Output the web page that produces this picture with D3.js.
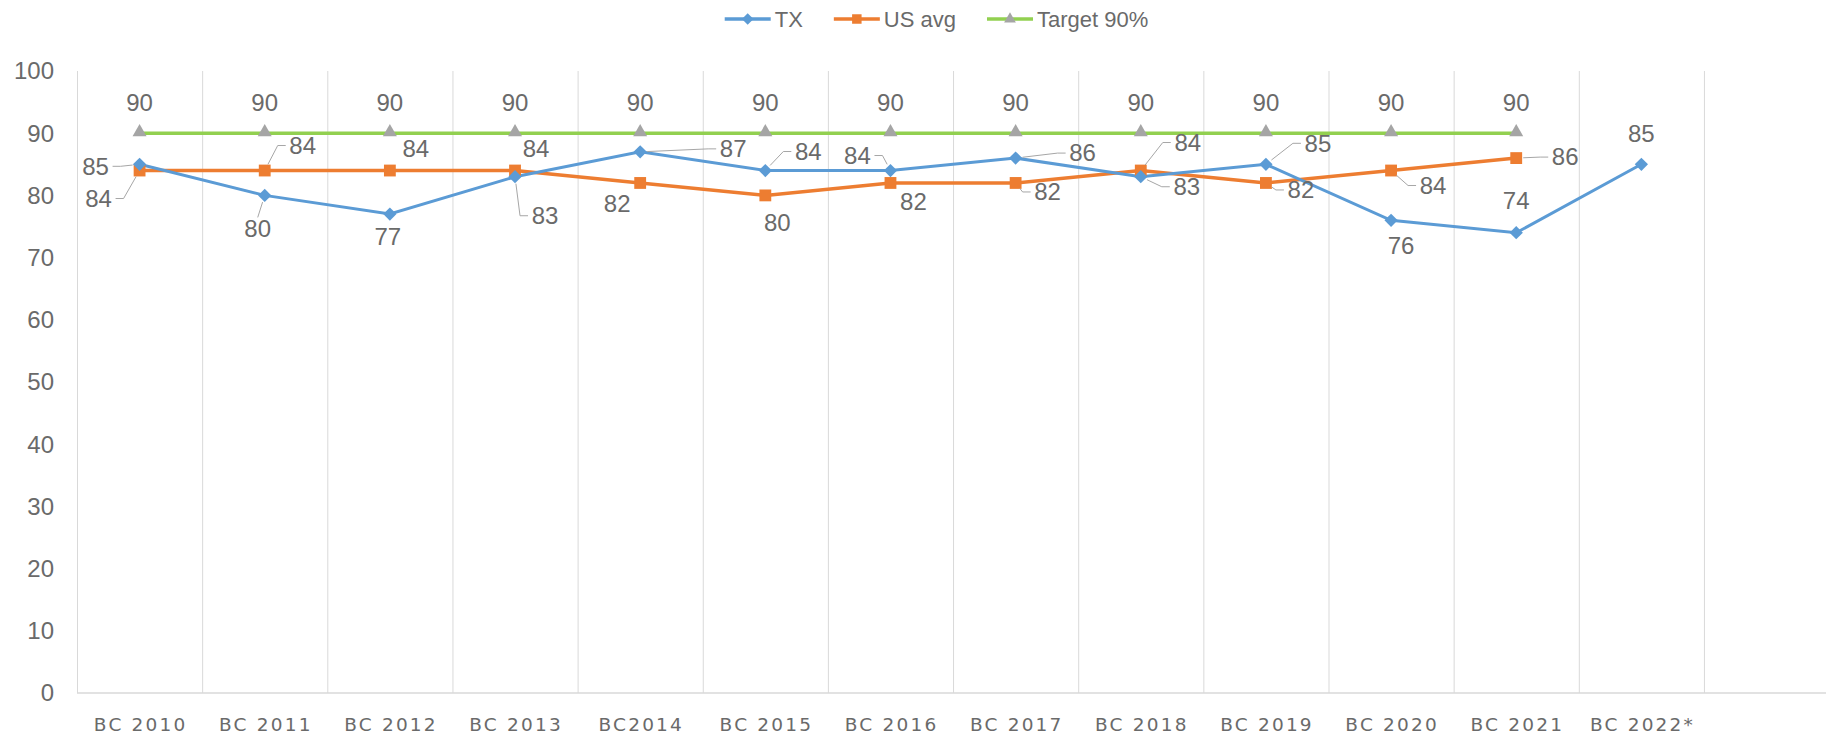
<!DOCTYPE html>
<html><head><meta charset="utf-8">
<script src="https://cdn.jsdelivr.net/npm/d3@7"></script>
<style>body{margin:0;background:#fff}svg{display:block}</style>
</head><body>
<script>
// ---------- data ----------
const categories = ["BC 2010","BC 2011","BC 2012","BC 2013","BC2014","BC 2015","BC 2016","BC 2017","BC 2018","BC 2019","BC 2020","BC 2021","BC 2022*"];
const txValues = [85,80,77,83,87,84,84,86,83,85,76,74,85];
const usValues = [84,84,84,84,82,80,82,82,84,82,84,86];
const targetValues = [90,90,90,90,90,90,90,90,90,90,90,90];
const yTicks = [0,10,20,30,40,50,60,70,80,90,100];
const seriesNames = ["TX","US avg","Target 90%"];

// label placement (dx, dy from point in px, leader line flag)
const txLabelPlace = [[-44,2,1],[-7,33,1],[-2,23,0],[30,39,1],[93,-3,1],[43,-19,1],[-33,-15,1],[67,-5,1],[46,10,1],[52,-21,1],[10,25,0],[0,-32,0],[0,-31,0]];
const usLabelPlace = [[-41,28,1],[38,-25,1],[26,-22,0],[21,-22,0],[-23,21,0],[12,27,0],[23,19,0],[32,9,1],[47,-28,1],[35,7,1],[42,15,1],[49,-1,1]];
const targetLabelPlace = targetValues.map(() => [0,-31,0]);

// ---------- layout ----------
const W = 1826, H = 737;
const plotLeft = 77, plotTop = 71, plotBottom = 693;
const bandW = 125.15;
const colors = {tx:"#5B9BD5", us:"#ED7D31", target:"#92D050", tri:"#A5A5A5", text:"#6A6A6A", grid:"#D9D9D9"};
const font = "'Liberation Sans', Arial, sans-serif";

const svg = d3.select("body").append("svg").attr("width", W).attr("height", H);

const domain = categories.concat([" "]);
const x = d3.scaleBand().domain(domain).range([plotLeft, plotLeft + bandW * domain.length]).padding(0);
const y = d3.scaleLinear().domain([0, 100]).range([plotBottom, plotTop]);
const cx = i => x(categories[i]) + x.bandwidth() / 2;

// vertical gridlines at band boundaries
svg.append("g").selectAll("line").data(domain).join("line")
  .attr("x1", d => x(d) + 0.5).attr("x2", d => x(d) + 0.5)
  .attr("y1", plotTop).attr("y2", plotBottom)
  .attr("stroke", colors.grid).attr("stroke-width", 1);
// baseline
svg.append("line").attr("x1", plotLeft).attr("x2", W).attr("y1", y(0)).attr("y2", y(0))
  .attr("stroke", colors.grid).attr("stroke-width", 1.5);

// y tick labels
svg.append("g").selectAll("text").data(yTicks).join("text")
  .attr("x", 54).attr("y", d => y(d)).attr("dy", "0.35em")
  .attr("text-anchor", "end").attr("font-family", font).attr("font-size", 24)
  .attr("fill", colors.text).text(d => d);

// x labels
svg.append("g").selectAll("text").data(categories).join("text")
  .attr("x", d => x(d) + x.bandwidth() / 2 + 1.1).attr("y", 731)
  .attr("text-anchor", "middle").attr("font-family", "'DejaVu Sans', sans-serif")
  .attr("font-size", 18.5).attr("letter-spacing", "2.2px")
  .attr("fill", colors.text).text(d => d);

// lines
const line = d3.line().x((d, i) => cx(i)).y(d => y(d));
svg.append("path").datum(targetValues).attr("d", line).attr("fill", "none")
  .attr("stroke", colors.target).attr("stroke-width", 3.5);
svg.append("path").datum(usValues).attr("d", line).attr("fill", "none")
  .attr("stroke", colors.us).attr("stroke-width", 3.5);
svg.append("path").datum(txValues).attr("d", line).attr("fill", "none")
  .attr("stroke", colors.tx).attr("stroke-width", 3);

// markers
const square = d3.symbol().type(d3.symbolSquare).size(140);
const triangle = d3.symbol().type(d3.symbolTriangle).size(85);
const diamond = d3.symbol().type(d3.symbolDiamond2 || d3.symbolDiamond).size(112);
svg.append("g").selectAll("path").data(targetValues).join("path")
  .attr("d", triangle).attr("transform", (d, i) => `translate(${cx(i)},${y(d) - 1})`)
  .attr("fill", colors.tri);
svg.append("g").selectAll("path").data(usValues).join("path")
  .attr("d", square).attr("transform", (d, i) => `translate(${cx(i)},${y(d)})`)
  .attr("fill", colors.us);
svg.append("g").selectAll("path").data(txValues).join("path")
  .attr("d", diamond).attr("transform", (d, i) => `translate(${cx(i)},${y(d)})`)
  .attr("fill", colors.tx);

// data labels with leader lines
function drawLabels(values, place) {
  const g = svg.append("g");
  values.forEach((v, i) => {
    const px = cx(i), py = y(v);
    const [dx, dy, leader] = place[i];
    const lx = px + dx, ly = py + dy;
    if (leader) {
      const hw = 14, hh = 9;
      let pts;
      if (Math.abs(dx) > hw + 4) {
        const s = Math.sign(dx);
        const ax = lx - s * (hw + 3), ex = ax - s * 8;
        const vx = px - ex, vy = py - ly, len = Math.hypot(vx, vy);
        const k = Math.max(0, (len - 7) / len);
        pts = [[ax, ly], [ex, ly], [ex + vx * k, ly + vy * k]];
      } else {
        const s = Math.sign(dy);
        const ay = ly - s * (hh + 2);
        const vx = px - lx, vy = py - ay, len = Math.hypot(vx, vy);
        const k = Math.max(0, (len - 7) / len);
        pts = [[lx, ay], [lx + vx * k, ay + vy * k]];
      }
      g.append("path").attr("d", d3.line()(pts)).attr("fill", "none")
        .attr("stroke", "#A6A6A6").attr("stroke-width", 1);
    }
    g.append("text").attr("x", lx).attr("y", ly).attr("dy", "0.35em")
      .attr("text-anchor", "middle").attr("font-family", font).attr("font-size", 24)
      .attr("fill", colors.text).text(v);
  });
}
drawLabels(targetValues, targetLabelPlace);
drawLabels(usValues, usLabelPlace);
drawLabels(txValues, txLabelPlace);

// legend
const legendItems = [
  {name: seriesNames[0], color: colors.tx, sym: d3.symbol().type(d3.symbolDiamond2 || d3.symbolDiamond).size(85), fill: colors.tx},
  {name: seriesNames[1], color: colors.us, sym: d3.symbol().type(d3.symbolSquare).size(90), fill: colors.us},
  {name: seriesNames[2], color: colors.target, sym: d3.symbol().type(d3.symbolTriangle).size(60), fill: colors.tri}
];
const lg = svg.append("g");
let legX = 0;
legendItems.forEach(it => {
  const g = lg.append("g").attr("transform", `translate(${legX},0)`);
  g.append("line").attr("x1", 0).attr("x2", 46).attr("y1", 19).attr("y2", 19)
    .attr("stroke", it.color).attr("stroke-width", 3.5);
  g.append("path").attr("d", it.sym).attr("transform", "translate(23,19)").attr("fill", it.fill);
  const t = g.append("text").attr("x", 50).attr("y", 19).attr("dy", "0.35em")
    .attr("font-family", font).attr("font-size", 22).attr("fill", colors.text).text(it.name);
  legX += 50 + t.node().getComputedTextLength() + 31;
});
const legW = legX - 31;
lg.attr("transform", `translate(${936.5 - legW / 2},0)`);
</script>
</body></html>
